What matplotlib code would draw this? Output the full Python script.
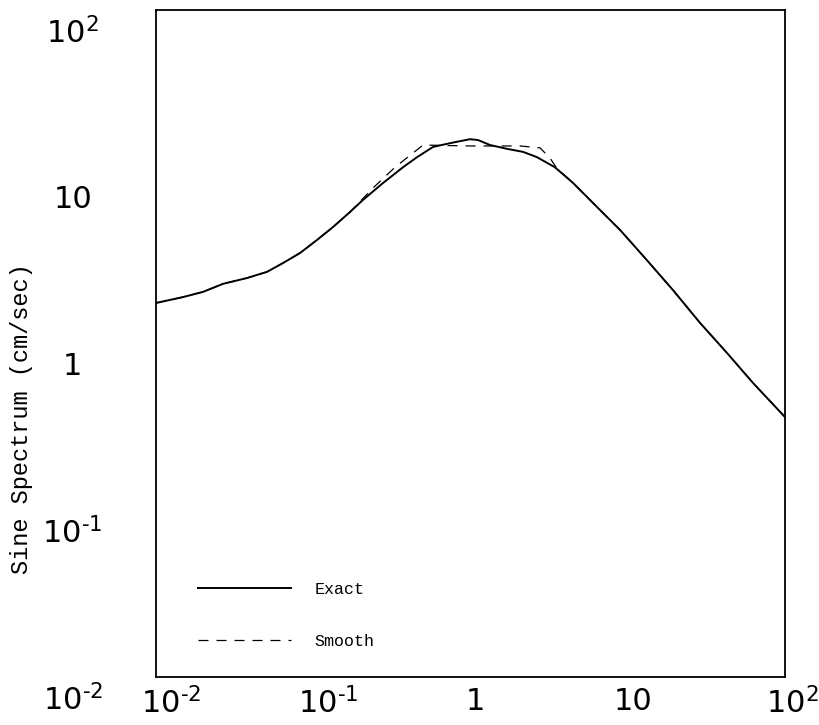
import matplotlib
matplotlib.use("Agg")
import matplotlib.pyplot as plt
import matplotlib.transforms as mtransforms

# values
exact_x = [0.01, 0.0149, 0.0199, 0.0267, 0.0379, 0.0508, 0.0643, 0.0824, 0.1057,
           0.1337, 0.1714, 0.207, 0.278, 0.372, 0.457, 0.578, 0.741, 0.993, 1.117,
           1.33, 1.71, 2.16, 2.65, 3.44, 4.49, 6.37, 8.93, 13.2, 19.4, 28.8,
           42.8, 62.7, 100]
exact_y = [1.75, 1.90, 2.04, 2.28, 2.47, 2.69, 3.04, 3.49, 4.18,
           5.00, 6.15, 7.26, 9.18, 11.4, 13.1, 15.1, 15.9, 16.8, 16.6,
           15.5, 14.7, 14.1, 13.1, 11.4, 9.18, 6.59, 4.80, 3.17, 2.09, 1.33,
           0.877, 0.579, 0.362]

smooth_x = [0.01, 0.0149, 0.0199, 0.0267, 0.0379, 0.0508, 0.0643, 0.0824, 0.1057,
            0.1337, 0.1714, 0.240, 0.331, 0.499, 0.964, 2.07, 2.77, 3.21, 3.55,
            4.49, 6.37, 8.93, 13.2, 19.4, 28.8, 42.8, 62.7, 100]
smooth_y = [1.75, 1.90, 2.04, 2.28, 2.47, 2.69, 3.04, 3.49, 4.18,
            5.00, 6.15, 8.57, 11.4, 15.5, 15.3, 15.3, 14.9, 12.9, 11.2,
            9.18, 6.59, 4.80, 3.17, 2.09, 1.33, 0.877, 0.579, 0.362]

tick_vals = [0.01, 0.1, 1, 10, 100]
tick_labels = [r'$10^{\text{-}2}$', r'$10^{\text{-}1}$', '1', '10', r'$10^{2}$']
x_shift = [-0.15, -0.15, 0.05, 0.05, -0.19]  # inches, to mimic the original placement


def plot_spectrum():
    fig = plt.figure(figsize=(8.19, 7.25), dpi=100)
    ax = fig.add_axes([0.1905, 0.0662, 0.768, 0.92])

    ax.plot(exact_x, exact_y, color='black', lw=1.4, label='Exact')
    ax.plot(smooth_x, smooth_y, color='black', lw=0.9, dashes=(8, 6.4), label='Smooth')

    ax.set_xscale('log')
    ax.set_yscale('log')
    ax.set_xlim(0.01, 100)
    ax.set_ylim(0.01, 100)
    ax.minorticks_off()

    ax.set_xticks(tick_vals)
    ax.set_xticklabels(tick_labels)
    ax.set_yticks(tick_vals)
    ax.set_yticklabels(tick_labels)
    ax.tick_params(axis='both', length=0, labelsize=22)
    ax.tick_params(axis='x', pad=7)
    ax.tick_params(axis='y', pad=60)

    for lab, dx in zip(ax.get_xticklabels(), x_shift):
        if '^' in lab.get_text():
            lab.set_ha('left')
        lab.set_transform(lab.get_transform() +
                          mtransforms.ScaledTranslation(dx, 0, fig.dpi_scale_trans))
    for lab in ax.get_yticklabels():
        lab.set_ha('center')
        lab.set_transform(lab.get_transform() +
                          mtransforms.ScaledTranslation(0, -0.2, fig.dpi_scale_trans))

    for sp in ax.spines.values():
        sp.set_linewidth(1.3)

    ax.set_ylabel('Sine Spectrum (cm/sec)', family='Liberation Mono', fontsize=17)
    ax.yaxis.set_label_coords(-0.196, 0.388)

    ax.legend(loc='lower left', bbox_to_anchor=(0.043, 0.02), frameon=False,
              prop={'family': 'Liberation Mono', 'size': 12},
              handlelength=5.6, handletextpad=1.4, labelspacing=2.2)

    fig.savefig('out.png', dpi=100)
    plt.close(fig)


if __name__ == "__main__":
    plot_spectrum()
